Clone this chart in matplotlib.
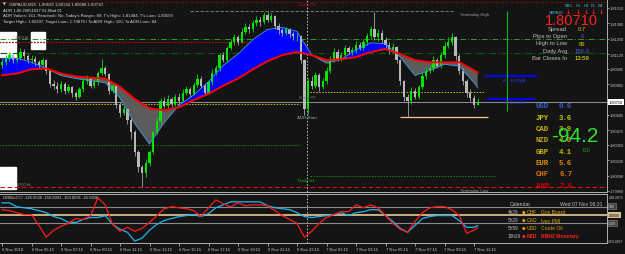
import numpy as np
import matplotlib.pyplot as plt
from matplotlib.patches import Rectangle

plt.rcParams['font.family'] = ['Liberation Sans', 'DejaVu Sans']

BG = '#141414'
W, H = 625, 255

# ---------------- data: pips above 1.80000, GBPAUD M15 bars from 6 Nov 03:15 ----------------
first_open = 103
close_pips = [105, 108, 111, 107, 109, 114, 110, 107, 108, 105,
              103, 107, 98, 87, 85, 82, 87, 81, 84, 79,
              76, 82, 89, 91, 85, 88, 96, 100, 95, 81,
              85, 69, 62, 65, 56, 46, 29, 16, 11, 20,
              29, 46, 55, 72, 68, 74, 70, 76, 72, 79,
              82, 78, 86, 91, 85, 79, 88, 96, 100, 111,
              107, 117, 122, 126, 122, 131, 135, 133, 138, 141,
              139, 145, 141, 144, 136, 132, 130, 133, 129, 127,
              127, 107, 65, 89, 85, 94, 84, 89, 98, 107,
              114, 108, 111, 117, 114, 115, 120, 117, 122, 127,
              133, 126, 130, 124, 120, 115, 118, 107, 89, 76,
              72, 81, 76, 84, 93, 98, 100, 107, 102, 111,
              119, 122, 126, 110, 98, 89, 79, 75, 69, 71]
high_pips = [108, 111, 114, 113, 112, 117, 116, 112, 111, 110,
             107, 109, 108, 99, 90, 88, 89, 88, 87, 85,
             81, 84, 91, 94, 92, 90, 98, 108, 102, 96,
             88, 86, 71, 68, 66, 58, 48, 31, 18, 23,
             31, 48, 58, 75, 76, 77, 76, 78, 79, 82,
             85, 84, 88, 95, 93, 87, 90, 99, 103, 113,
             114, 119, 125, 129, 128, 134, 138, 137, 141, 144,
             143, 148, 148, 147, 145, 138, 134, 135, 134, 131,
             130, 128, 108, 92, 93, 97, 96, 92, 101, 110,
             117, 116, 114, 120, 119, 118, 123, 122, 125, 130,
             136, 148, 133, 132, 126, 122, 121, 119, 108, 90,
             78, 84, 83, 86, 96, 101, 103, 110, 109, 114,
             122, 126, 130, 127, 112, 100, 91, 82, 77, 74.4]
low_pips = [100, 103, 106, 104, 105, 107, 108, 104, 104, 102,
            100, 101, 95, 84, 82, 79, 80, 78, 79, 76,
            73, 75, 80, 87, 83, 83, 86, 94, 93, 78,
            79, 66, 59, 60, 53, 40, 26, 12, -1, 8,
            17, 27, 44, 53, 66, 66, 67, 68, 70, 71,
            77, 76, 77, 84, 83, 77, 78, 86, 94, 98,
            105, 105, 115, 120, 120, 121, 129, 130, 131, 136,
            136, 137, 139, 139, 133, 129, 127, 128, 126, 124,
            123, 104, 60, 61, 82, 83, 81, 82, 87, 96,
            105, 106, 106, 109, 112, 111, 113, 115, 115, 120,
            125, 124, 123, 121, 117, 112, 113, 104, 86, 72,
            59, 70, 74, 74, 82, 91, 96, 98, 100, 100,
            109, 117, 120, 107, 95, 86, 76, 72, 66, 68.8]

ma_bars = list(range(0, 129, 4)) + [129]
slow_ema = [94, 95.5, 99, 99.8, 95.5, 92.9, 92, 91.2, 84.2, 73.8,
            66, 64.3, 66.9, 73, 78.2, 85.1, 91.2, 99, 105.9, 111.1,
            113.7, 111.1, 106.8, 107.6, 109.4, 113.7, 116.3, 112, 106.8, 105,
            105, 105, 98.1, 96.4]
fast_ema = [108.5, 108.5, 105, 99.8, 93.8, 91.2, 89.4, 87.7, 74.7, 53,
            35.7, 53.9, 68.6, 77.3, 88.6, 102.4, 112, 124.1, 132.8, 134.5,
            131.1, 111.1, 104.2, 107.6, 115.5, 121.5, 120.7, 109.4, 93.8, 98.1,
            103.3, 101.6, 87.7, 83.4]

cci_bars = list(range(0, 129, 2)) + [129]
cci_red = [65, 53, 29, 6, 6, -123, -265, -182, -135, -100,
           -41, -53, -6, 206, 123, -112, -194, -147, -194, -159,
           -88, -6, 76, 100, 88, 76, 53, -18, 88, 182,
           135, 100, 147, 112, 123, 123, 112, 53, -6, -53,
           -100, -265, -194, -100, -29, 6, 41, 41, 123, 88,
           123, 88, -6, -100, -171, -206, -76, 29, 88, 100,
           100, 65, -6, -218, -182, -150]
cci_blue = [147, 147, 100, 88, 76, 53, 29, -18, -41, -88,
            -88, -53, -29, -29, -6, -112, -171, -206, -312, -276,
            -182, -112, -65, -41, -18, -6, 6, -18, 18, 88,
            123, 159, 159, 159, 159, 159, 112, 88, 76, 65,
            29, -18, -29, -18, -6, 6, 29, -6, 29, 41,
            65, 65, -6, -76, -159, -206, -124, -41, -18, -6,
            -6, -6, -65, -147, -147, -126]

price_labels = ['1.81510', '1.81380', '1.81250', '1.81120', '1.80995', '1.80865',
                '1.80605', '1.80475', '1.80350', '1.80220', '1.80090', '1.79960']
last_price = 1.80710
time_labels = ['6 Nov 2018', '6 Nov 05:15', '6 Nov 07:15', '6 Nov 09:15', '6 Nov 11:15',
               '6 Nov 13:15', '6 Nov 15:15', '6 Nov 17:15', '6 Nov 19:15', '6 Nov 21:15',
               '6 Nov 23:15', '7 Nov 01:15', '7 Nov 03:15', '7 Nov 05:15', '7 Nov 07:15',
               '7 Nov 09:15', '7 Nov 11:15']
day_start_bar = 83

# level lines (pips above 1.80000)
daily_r1 = 156.1
yday_high = 148.4
level_g1 = 124.7
level_r1 = 122.2
level_g2 = 112.9
h1_ema = 93.4
pp_today = 79.8
h4_ema = 73.9
pp_yday = 69.7
adr_low = 58.7
s1_yday = 35.0
s1_today = 8.7
yday_low = -0.6

currencies = ['USD', 'JPY', 'CAD', 'NZD', 'GBP', 'EUR', 'CHF', 'AUD']
strength = ['0.6', '3.6', '3.9', '4.0', '4.1', '5.6', '6.7', '7.6']
stats_names = ['Spread', 'Pips to Open', 'High to Low', 'Daily Avg', 'Bar Closes In']
stats_values = ['0.7', '6', '89', '156.0', '13:59']
cal_times = ['4h29', '5h29', '5h59', '10h29']
cal_ccy = ['CHF', 'CAD', 'USD', 'NZD']
cal_events = ['Gov Board', 'Ivey PMI', 'Crude Oil', 'RBNZ Monetary']


def P(p):
    return 1.8 + np.asarray(p, dtype=float) / 1e4


def put(x, y, s, **kw):
    kw.setdefault('va', 'center')
    fig.text(x / W, 1 - y / H, s, **kw)


fig = plt.figure(figsize=(6.25, 2.55), dpi=100, facecolor=BG)
ax = fig.add_axes([0, 1 - 193 / H, 607 / W, 193 / H], facecolor=BG)
sub = fig.add_axes([0, 1 - 244 / H, 607 / W, 49 / H], facecolor=BG)

px_bar = 3.6875
xlim = (-2 / px_bar, 605 / px_bar)

# white price boxes at left
for (bx, by, bw, bh) in [(0, 33, 16, 25), (31, 33, 14, 17), (0, 168, 16, 22)]:
    ax.add_patch(Rectangle((bx / W, 1 - (by + bh) / H), bw / W, bh / H,
                           transform=fig.transFigure, color='white', zorder=0.5))

# ---------------- level lines ----------------
ax.axhline(P(daily_r1), color='#7a1010', lw=0.6, ls=(0, (4, 2)), zorder=1)
ax.hlines(P(yday_high), 51, 122.8, color='#888888', lw=0.6, ls=(0, (4, 2)), zorder=1)
ax.axhline(P(level_g1), color='#20a020', lw=0.7, ls=(0, (6, 2, 1, 2)), zorder=1)
ax.hlines(P(level_r1), -1, 82.5, color='#a01010', lw=0.9, ls=(0, (1.5, 1)), zorder=1)
ax.axhline(P(level_g2), color='#0c5a0c', lw=0.8, ls=(0, (6, 2, 1, 2)), zorder=1)
ax.hlines(P(pp_today), 83.5, 131, color='#c8c800', lw=0.7, ls=(0, (1.5, 1.5)), zorder=1)
ax.axhline(last_price, color='#a8a8a8', lw=0.6, zorder=1)
ax.hlines(P(pp_yday), -1, 80.8, color='#c8c800', lw=0.7, ls=(0, (1.5, 1.5)), zorder=1)
ax.hlines(P(adr_low), 108, 131.8, color='#f0c890', lw=0.9, zorder=1)
ax.hlines(P(s1_yday), -1, 80.8, color='#208020', lw=0.7, ls=(0, (1.5, 1.5)), zorder=1)
ax.hlines(P(s1_today), 83.5, 133.7, color='#208020', lw=0.7, ls=(0, (1.5, 1.5)), zorder=1)
ax.axhline(P(yday_low), color='#e01010', lw=0.8, ls=(0, (4, 2.5)), zorder=1)
ax.hlines(P(h1_ema), 131, 145.1, color='#0000ff', lw=1.4, zorder=1)
ax.hlines(P(h4_ema), 131.5, 144.5, color='#0000ff', lw=1.4, zorder=1)
ax.axvline(day_start_bar - 0.2, color='#d0d0d0', lw=0.6, ls=(0, (2, 2)), zorder=1)
sub.axvline(day_start_bar - 0.2, color='#d0d0d0', lw=0.6, ls=(0, (2, 2)), zorder=1)
ax.vlines(136.9, P(63.7), P(yday_high), color='#10b010', lw=0.8, zorder=1)

# ---------------- moving average cloud ----------------
xs = np.array(ma_bars)
f = P(fast_ema)
s = P(slow_ema)
ax.fill_between(xs, f, s, where=f >= s, interpolate=True, color='#0000ff', lw=0, zorder=2)
ax.fill_between(xs, f, s, where=f < s, interpolate=True, color='#5c5c5c', lw=0, zorder=2)
ax.plot(xs, f, color='#3aa0e0', lw=0.6, zorder=4)
ax.plot(xs, s, color='#ff0000', lw=1.4, zorder=4.5)

# ---------------- candles ----------------
bars = np.arange(len(close_pips))
c = P(close_pips)
o = P([first_open] + close_pips[:-1])
hi = P(high_pips)
lo = P(low_pips)
up = c >= o
ax.vlines(bars[up], lo[up], hi[up], color='#00e000', lw=0.6, zorder=3)
ax.vlines(bars[~up], lo[~up], hi[~up], color='#a8a8a8', lw=0.6, zorder=3)
body = np.maximum(np.abs(c - o), 0.00004)
ax.bar(bars[up], body[up], bottom=np.minimum(o, c)[up], width=0.62,
       color='#00e600', lw=0, zorder=3.5)
ax.bar(bars[~up], body[~up], bottom=np.minimum(o, c)[~up], width=0.62,
       color='#b8b8b8', lw=0, zorder=3.5)

ax.set_xlim(*xlim)
ax.set_ylim(P(-4.9), P(158.6))

# price scale on the right
tick_vals = [float(t) for t in price_labels]
ax.yaxis.tick_right()
ax.set_yticks(tick_vals)
ax.set_yticklabels(price_labels)
ax.tick_params(axis='y', length=1.5, width=0.5, pad=0.6, labelsize=2.8,
               colors='#c8c8c8', direction='out')
ax.tick_params(axis='x', bottom=False, labelbottom=False)
for sp in ['left', 'top']:
    ax.spines[sp].set_visible(False)
for sp in ['right', 'bottom']:
    ax.spines[sp].set_color('#b0b0b0')
    ax.spines[sp].set_linewidth(0.7)

# ---------------- CCI sub window ----------------
sub.axhline(100, color='#8a8a8a', lw=0.8, zorder=1)
sub.axhline(0, color='#c8b084', lw=1.4, zorder=1)
sub.axhline(-100, color='#8a8a8a', lw=0.8, zorder=1)
sub.plot(cci_bars, cci_blue, color='#20b4f0', lw=0.9, zorder=3)
sub.plot(cci_bars, cci_red, color='#ff1a1a', lw=0.9, zorder=3)
sub.set_xlim(*xlim)
sub.set_ylim(-335, 253)
sub.set_yticks([])
sub.set_xticks(range(0, 129, 8))
sub.set_xticklabels(time_labels, ha='left')
sub.tick_params(axis='x', length=2, width=0.5, pad=1, labelsize=3.0, colors='#c8c8c8')
sub.spines['left'].set_visible(False)
for sp in ['right', 'bottom', 'top']:
    sub.spines[sp].set_color('#b0b0b0')
    sub.spines[sp].set_linewidth(0.7)

# ---------------- texts ----------------
hdr = dict(color='#d8d8d8', size=3.1, ha='left')
put(3, 5, '\u25bc', color='#d8d8d8', size=2.6, ha='left', family='DejaVu Sans')
put(9, 5, 'GBPAUD,M15  1.80692 1.80744 1.80688 1.80710', **hdr)
put(3, 10.7, 'ADR 1.00 20051027 01-Mod 01', **hdr)
put(3, 16, "ADR Values: 161, Reached= No, Today's Range= 89, T's High= 1.81484, T's Low= 1.80593", **hdr)
put(3, 21.7, 'Target High= 1.82207, Target Low= 1.79870 / To ADR High= 150, To ADR Low= 84', **hdr)
put(15, 38, '4700 bL', color='#909090', size=2.8, ha='left')
put(17, 185, '4700 bL', color='#909090', size=2.8, ha='left')

lab = dict(size=3.2, ha='left')
put(299, 5, 'Daily R1', color='#c01010', **lab)
put(299, 98, 'Daily PP', color='#707070', **lab)
put(297, 118, 'ADR Start', color='#a0a0a0', **lab)
put(298, 181, 'Daily S1', color='#20b020', **lab)
put(460, 15, 'Yesterday High', color='#a0a0a0', **lab)
put(460, 191, 'Yesterday Low', color='#a0a0a0', **lab)
put(503, 81, 'H1 34 EMA', color='#2a3cff', **lab)
put(503, 103, 'H4 34 EMA', color='#2a3cff', **lab)

# timeframe arrows
for tx, tf in zip([568, 578, 586, 593, 601], ['M15', 'H1', 'H4', 'D1', 'W1']):
    put(tx, 6, tf, color='#40c0e0', size=2.8, ha='center')
    put(tx, 12, '\u2193', color='#ff2020', size=4.5, ha='center', weight='bold',
        family='DejaVu Sans')
put(556, 12.5, 'GBPAUD', color='#40c0e0', size=2.6, ha='center')
put(571, 21.2, '1.80710', color='#ff2020', size=10.5,
    ha='center', family=['Liberation Sans Narrow', 'Liberation Sans'])

stat_colors = ['#e0c000', '#4a4aff', '#e0c000', '#5a5aff', '#ffff00']
for k, (nm, val, col) in enumerate(zip(stats_names, stats_values, stat_colors)):
    yy = 29.8 + k * 7.1
    put(567, yy, nm, color='#c0c0c0', size=4.2, ha='right')
    put(582, yy, val, color=col, size=4.2, ha='center')

cur_colors = ['#3a5fd0', '#c8c800', '#d0b400', '#d0a800', '#c8b400',
              '#e08c00', '#e07800', '#e00000']
for k, (cc, sv, col) in enumerate(zip(currencies, strength, cur_colors)):
    yy = 107 + k * 11.3
    put(536, yy, cc, color=col, size=5.3, ha='left', family='Liberation Mono', weight='bold')
    put(559, yy, sv, color=col, size=5.3, ha='left', family='Liberation Mono', weight='bold')
put(575, 137, '-94.2', color='#30e030', size=15, ha='center',
    family=['Liberation Sans Narrow', 'Liberation Sans'])
put(587, 151, '0.0', color='#20b020', size=4, ha='center')

# CCI window header and scale
put(3, 198, 'DRBtoCCI -126.0536 -150.6091 -150.6091 -65.5806', color='#d0d0d0', size=3.0, ha='left')
put(609, 198, '238.2071', color='#c8c8c8', size=2.6, ha='left')
put(609, 207, '100', color='#e0e0e0', size=2.6, ha='left',
    bbox=dict(boxstyle='square,pad=0.2', fc='#404040', ec='#909090', lw=0.4))
put(609, 216, '0.0000', color='#000000', size=2.6, ha='left',
    bbox=dict(boxstyle='square,pad=0.2', fc='#d8c090', ec='none'))
put(609, 224, '-100', color='#e0e0e0', size=2.6, ha='left',
    bbox=dict(boxstyle='square,pad=0.2', fc='#404040', ec='#909090', lw=0.4))
put(608, 242, '-263.4807', color='#c8c8c8', size=2.4, ha='left')
put(609, 103, '1.80710', color='#000000', size=2.8, ha='left',
    bbox=dict(boxstyle='square,pad=0.2', fc='#ffffff', ec='none'))

# calendar panel
put(510, 204, 'Calendar', color='#c0c0c0', size=3.7, ha='left')
put(603, 204, 'Wed 07 Nov 09:31', color='#c0c0c0', size=3.7, ha='right')
cal_cols = ['#f0a800', '#e0a000', '#e0a000', '#ff2020']
for k, (tt, cy, ev, col) in enumerate(zip(cal_times, cal_ccy, cal_events, cal_cols)):
    yy = 213 + k * 8
    wt = 'bold' if col == '#ff2020' else 'normal'
    put(508, yy, tt, color='#c0c0c0', size=3.4, ha='left')
    put(524, yy, '\u25cf', color=col, size=3.0, ha='center', family='DejaVu Sans')
    put(527, yy, cy, color=col, size=3.6, ha='left', weight=wt)
    put(541, yy, ev, color=col, size=3.6, ha='left', weight=wt)

fig.savefig('out.png', dpi=100, facecolor=BG)
